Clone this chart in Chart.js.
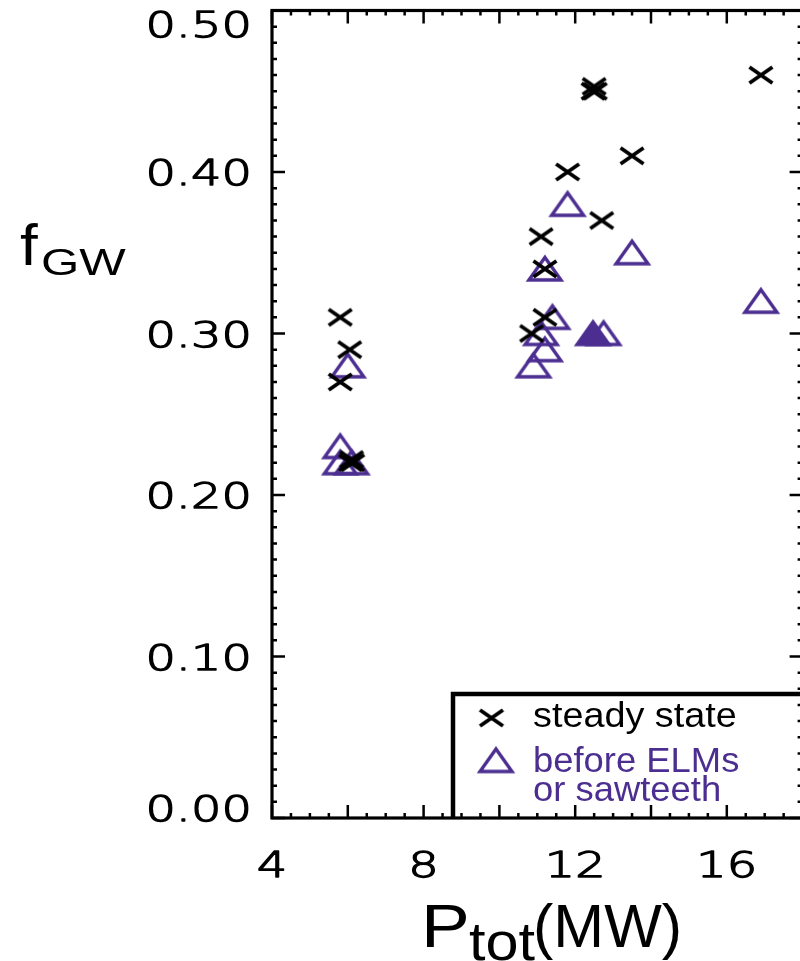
<!DOCTYPE html>
<html>
<head>
<meta charset="utf-8">
<script src="https://cdn.jsdelivr.net/npm/chart.js@4/dist/chart.umd.min.js"></script>
<style>
html, body { margin: 0; padding: 0; background: #fff; overflow: hidden; }
canvas { display: block; }
</style>
</head>
<body>
<canvas id="chart" width="810" height="961"></canvas>
<script>
// steady state (crosses)
const steadyX = [5.8, 6.05, 5.8, 6.07, 6.13, 6.1, 12.47, 12.53, 12.5, 11.8, 13.5, 16.9, 11.1, 12.7, 11.2, 11.2, 10.85];
const steadyY = [0.31, 0.29, 0.27, 0.22, 0.22, 0.222, 0.45, 0.45, 0.453, 0.40, 0.41, 0.46, 0.36, 0.37, 0.34, 0.31, 0.30];
// before ELMs or sawteeth (open triangles)
const elmX = [6.0, 5.8, 5.8, 6.1, 11.8, 13.5, 11.2, 11.4, 11.1, 11.2, 10.9, 12.75, 16.9];
const elmY = [0.28, 0.23, 0.22, 0.22, 0.38, 0.35, 0.34, 0.31, 0.30, 0.29, 0.28, 0.30, 0.32];
// filled triangle
const filledX = [12.47];
const filledY = [0.30];

const xTickLabels = [4, 8, 12, 16];
const yTickLabels = ['0.00', '0.10', '0.20', '0.30', '0.40', '0.50'];

const purple = 'rgb(76, 46, 145)';
const sans = '"Liberation Sans", Arial, sans-serif';

function makeCross() {
    const c = document.createElement('canvas');
    c.width = 32; c.height = 26;
    const g = c.getContext('2d');
    g.strokeStyle = '#000';
    g.lineWidth = 3.8;
    g.beginPath();
    g.moveTo(4.5, 5); g.lineTo(27.5, 21);
    g.moveTo(27.5, 5); g.lineTo(4.5, 21);
    g.stroke();
    return c;
}

function makeTriangle(filled) {
    const c = document.createElement('canvas');
    c.width = 44; c.height = 34;
    const g = c.getContext('2d');
    g.strokeStyle = purple;
    g.fillStyle = purple;
    g.lineWidth = 3.4;
    g.beginPath();
    g.moveTo(22, 5.5); g.lineTo(38, 28); g.lineTo(6, 28);
    g.closePath();
    if (filled) g.fill();
    g.stroke();
    return c;
}

const crossImg = makeCross();
const triImg = makeTriangle(false);
const triFilledImg = makeTriangle(true);

function pts(xs, ys) {
    return xs.map((x, i) => ({ x: x, y: ys[i] }));
}

function stretchText(ctx, text, x, y, font, sx, align, color, thicken) {
    ctx.save();
    ctx.translate(x, y);
    ctx.scale(sx, 1);
    ctx.font = font;
    ctx.fillStyle = color || '#000';
    ctx.strokeStyle = color || '#000';
    ctx.textAlign = align;
    ctx.textBaseline = 'alphabetic';
    ctx.fillText(text, 0, 0);
    if (thicken) {
        ctx.lineWidth = thicken;
        ctx.lineJoin = 'round';
        ctx.strokeText(text, 0, 0);
    }
    ctx.restore();
}

const idlAxes = {
    id: 'idlAxes',
    afterDraw(chart) {
        const ctx = chart.ctx;
        const xs = chart.scales.x;
        const ys = chart.scales.y;
        const a = chart.chartArea;
        ctx.save();
        ctx.strokeStyle = '#000';

        // ticks, inward on all four sides
        ctx.lineWidth = 2.5;
        ctx.beginPath();
        for (let i = 0; i <= 28; i++) {
            const v = 4 + i * 0.5;
            const px = xs.getPixelForValue(v);
            const len = (i % 4 === 0) ? 13 : 5;
            ctx.moveTo(px, a.bottom); ctx.lineTo(px, a.bottom - len);
            ctx.moveTo(px, a.top); ctx.lineTo(px, a.top + len);
        }
        for (let i = 0; i <= 50; i++) {
            const py = ys.getPixelForValue(i / 100);
            const len = (i % 10 === 0) ? 13 : 5;
            ctx.moveTo(a.left, py); ctx.lineTo(a.left + len, py);
            ctx.moveTo(a.right, py); ctx.lineTo(a.right - len, py);
        }
        ctx.stroke();

        // frame
        ctx.lineWidth = 3.2;
        ctx.strokeRect(a.left, a.top, a.right - a.left, a.bottom - a.top);

        // tick labels
        const tickFont = '200 36px "DejaVu Sans"';
        yTickLabels.forEach(t => {
            let py = ys.getPixelForValue(parseFloat(t));
            py = Math.min(Math.max(py, a.top + 13), a.bottom - 10);
            stretchText(ctx, t, a.left - 20, py + 13, tickFont, 1.33, 'right', '#000', 1.3);
        });
        xTickLabels.forEach(t => {
            const px = xs.getPixelForValue(t);
            stretchText(ctx, String(t), px, a.bottom + 59, tickFont, 1.33, 'center', '#000', 1.3);
        });

        // axis titles
        stretchText(ctx, 'f', 20, 265, '58px ' + sans, 1.1, 'left');
        stretchText(ctx, 'GW', 41, 275, '37px ' + sans, 1.33, 'left');
        stretchText(ctx, 'P', 421, 947, '61px ' + sans, 1.2, 'left');
        stretchText(ctx, 'tot', 469, 960, '54px ' + sans, 1.1, 'left');
        stretchText(ctx, '(MW)', 533, 947, '61px ' + sans, 1.0, 'left');

        // legend box
        ctx.lineWidth = 4.5;
        ctx.beginPath();
        ctx.moveTo(453, a.bottom);
        ctx.lineTo(453, 694);
        ctx.lineTo(a.right + 10, 694);
        ctx.stroke();
        ctx.drawImage(crossImg, 491.5 - 16, 718 - 13);
        ctx.drawImage(triImg, 496 - 22, 760.5 - 17);
        stretchText(ctx, 'steady state', 533, 727, '35px ' + sans, 1.08, 'left');
        stretchText(ctx, 'before ELMs', 533, 772, '35px ' + sans, 1.04, 'left', purple);
        stretchText(ctx, 'or sawteeth', 533, 801, '35px ' + sans, 1.04, 'left', purple);
        ctx.restore();
    }
};

new Chart('chart', {
    type: 'scatter',
    data: {
        datasets: [{
            label: 'steady state',
            data: pts(steadyX, steadyY),
            pointStyle: crossImg,
            order: 0
        }, {
            label: 'before ELMs or sawteeth',
            data: pts(elmX, elmY),
            pointStyle: triImg,
            order: 1
        }, {
            label: 'before ELMs (filled)',
            data: pts(filledX, filledY),
            pointStyle: triFilledImg,
            order: 2
        }]
    },
    options: {
        responsive: false,
        animation: false,
        devicePixelRatio: 1,
        clip: false,
        layout: {
            padding: { left: 272, top: 10.5, right: 7.4, bottom: 143 }
        },
        plugins: {
            legend: { display: false },
            tooltip: { enabled: false }
        },
        scales: {
            x: { type: 'linear', min: 4, max: 18, display: false },
            y: { type: 'linear', min: 0, max: 0.5, display: false }
        }
    },
    plugins: [idlAxes]
});
</script>
</body>
</html>
